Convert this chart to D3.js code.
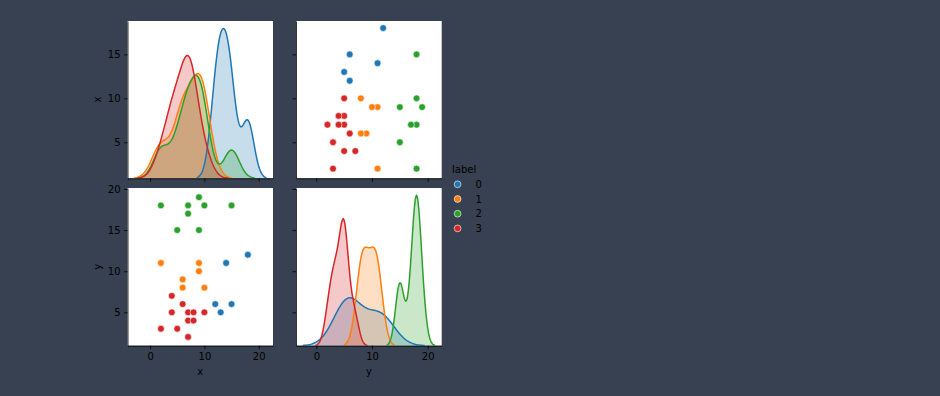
<!DOCTYPE html>
<html>
<head>
<meta charset="utf-8">
<script src="https://cdn.jsdelivr.net/npm/d3@7"></script>
<style>
  body { margin: 0; background: #374151; }
  svg { display: block; font-family: "DejaVu Sans", sans-serif; }
</style>
</head>
<body>
<svg id="chart" width="940" height="396"></svg>
<script>
const labels = [0, 1, 2, 3]
const colors = ['#1f77b4', '#ff7f0e', '#2ca02c', '#d62728']

// one entry per observation, same order in all three arrays
const xValues = [18, 14, 12, 15, 13,  2, 9, 9, 6, 6, 10,  2, 7, 7, 9, 10, 15, 5, 9,  4, 6, 4, 7, 8, 10, 7, 8, 2, 5, 7]
const yValues = [12, 11, 6, 6, 5,  11, 11, 10, 9, 8, 8,  18, 18, 17, 19, 18, 18, 15, 15,  7, 6, 5, 5, 5, 5, 4, 4, 3, 3, 2]
const pointLabels = [0, 0, 0, 0, 0,  1, 1, 1, 1, 1, 1,  2, 2, 2, 2, 2, 2, 2, 2,  3, 3, 3, 3, 3, 3, 3, 3, 3, 3, 3]

const colTicks = [0, 10, 20]
const row0Ticks = [5, 10, 15]
const row1Ticks = [5, 10, 15, 20]

const cols = [[127.5, 273], [296, 441.7]]
const rows = [[21, 178.3], [188, 345.7]]

const svg = d3.select('#chart')

// kde like old seaborn / statsmodels: scott bandwidth, cut 3, 100 points
function kde(vals) {
  const n = vals.length
  const sorted = vals.slice().sort(d3.ascending)
  const sd = d3.deviation(vals)
  const iqr = (d3.quantileSorted(sorted, 0.75) - d3.quantileSorted(sorted, 0.25)) / 1.349
  const a = iqr > 0 ? Math.min(sd, iqr) : sd
  const bw = 1.059 * a * Math.pow(n, -0.2)
  const lo = d3.min(vals) - 3 * bw
  const hi = d3.max(vals) + 3 * bw
  return d3.range(100).map(i => {
    const g = lo + (hi - lo) * i / 99
    const dens = d3.sum(vals, v => Math.exp(-0.5 * ((g - v) / bw) ** 2)) / (n * bw * Math.sqrt(2 * Math.PI))
    return [g, dens]
  })
}

const byLabel = (arr, lab) => arr.filter((d, i) => pointLabels[i] === lab)
const xKde = labels.map(l => kde(byLabel(xValues, l)))
const yKde = labels.map(l => kde(byLabel(yValues, l)))

function padded(curves) {
  const lo = d3.min(curves, c => c[0][0])
  const hi = d3.max(curves, c => c[c.length - 1][0])
  const m = (hi - lo) * 0.05
  return [lo - m, hi + m]
}

const xCol = d3.scaleLinear().domain(padded(xKde)).range(cols[0])
const yCol = d3.scaleLinear().domain(padded(yKde)).range(cols[1])
const xRow = d3.scaleLinear().domain([0.9, 18.8]).range([rows[0][1], rows[0][0]])
const yRow = d3.scaleLinear().domain([0.94, 20.12]).range([rows[1][1], rows[1][0]])

function panel(id, c, r) {
  const [x0, x1] = cols[c], [y0, y1] = rows[r]
  svg.append('rect').attr('x', x0).attr('y', y0).attr('width', x1 - x0).attr('height', y1 - y0).attr('fill', '#fff')
  svg.append('clipPath').attr('id', id).append('rect')
    .attr('x', x0).attr('y', y0).attr('width', x1 - x0).attr('height', y1 - y0)
  return svg.append('g').attr('clip-path', `url(#${id})`)
}

function diag(g, xs, curves, r) {
  const top = d3.max(curves, c => d3.max(c, d => d[1]))
  const ys = d3.scaleLinear().domain([0, top * 1.05]).range([rows[r][1], rows[r][0]])
  const line = d3.line().x(d => xs(d[0])).y(d => ys(d[1]))
  const area = d3.area().x(d => xs(d[0])).y0(ys(0)).y1(d => ys(d[1]))
  // fills sit under every line, like matplotlib's zorder
  curves.forEach((c, i) => {
    g.append('path').attr('d', area(c)).attr('fill', colors[i]).attr('fill-opacity', 0.25)
  })
  curves.forEach((c, i) => {
    g.append('path').attr('d', line(c)).attr('fill', 'none')
      .attr('stroke', colors[i]).attr('stroke-width', 1.5)
  })
}

function scatter(g, xs, ys, hv, vv) {
  g.selectAll('circle')
    .data(d3.range(hv.length))
    .enter()
    .append('circle')
    .attr('cx', i => xs(hv[i]))
    .attr('cy', i => ys(vv[i]))
    .attr('r', 3.4)
    .attr('fill', i => colors[pointLabels[i]])
    .attr('stroke', '#fff')
    .attr('stroke-width', 0.6)
}

diag(panel('p00', 0, 0), xCol, xKde, 0)
scatter(panel('p01', 1, 0), yCol, xRow, yValues, xValues)
scatter(panel('p10', 0, 1), xCol, yRow, xValues, yValues)
diag(panel('p11', 1, 1), yCol, yKde, 1)

function styleAxis(g) {
  g.selectAll('.domain').attr('stroke', '#000').attr('stroke-width', 0.8)
  g.selectAll('.tick line').attr('stroke', '#000').attr('stroke-width', 0.8)
  g.selectAll('.tick text').attr('fill', '#000').style('font-size', '10px').style('font-family', '"DejaVu Sans", sans-serif')
}

function bottomAxis(scale, r, showLabels) {
  const ax = d3.axisBottom(scale).tickValues(colTicks).tickSize(3.5).tickSizeOuter(0).tickPadding(3.5)
  if (!showLabels) ax.tickFormat('')
  const g = svg.append('g').attr('transform', `translate(0,${rows[r][1]})`).call(ax)
  styleAxis(g)
}

function leftAxis(scale, c, ticks, showLabels) {
  const ax = d3.axisLeft(scale).tickValues(ticks).tickSize(3.5).tickSizeOuter(0).tickPadding(3.5)
  if (!showLabels) ax.tickFormat('')
  const g = svg.append('g').attr('transform', `translate(${cols[c][0]},0)`).call(ax)
  styleAxis(g)
}

bottomAxis(xCol, 0, false)
bottomAxis(yCol, 0, false)
bottomAxis(xCol, 1, true)
bottomAxis(yCol, 1, true)
leftAxis(xRow, 0, row0Ticks, true)
leftAxis(xRow, 1, row0Ticks, false)
leftAxis(yRow, 0, row1Ticks, true)
leftAxis(yRow, 1, row1Ticks, false)

// axis titles
const title = (x, y, t, rot) => svg.append('text')
  .attr('transform', `translate(${x},${y}) rotate(${rot})`)
  .attr('text-anchor', 'middle').attr('fill', '#000').style('font-size', '10px').text(t)
title(100.5, (rows[0][0] + rows[0][1]) / 2, 'x', -90)
title(100.5, (rows[1][0] + rows[1][1]) / 2, 'y', -90)
title((cols[0][0] + cols[0][1]) / 2, 374.5, 'x', 0)
title((cols[1][0] + cols[1][1]) / 2, 374.5, 'y', 0)

// legend
const legend = svg.append('g').attr('transform', 'translate(452,0)')
legend.append('text').attr('x', 0).attr('y', 172.5).attr('fill', '#000').style('font-size', '10px').text('label')
const item = legend.selectAll('g.item').data(labels).enter().append('g')
  .attr('class', 'item')
  .attr('transform', (d, i) => `translate(0,${184.3 + i * 14.7})`)
item.append('circle').attr('cx', 5.6).attr('cy', 0).attr('r', 3.4)
  .attr('fill', (d, i) => colors[i]).attr('stroke', '#fff').attr('stroke-width', 0.6)
item.append('text').attr('x', 23.5).attr('y', 3.6).attr('fill', '#000').style('font-size', '10px').text(d => d)
</script>
</body>
</html>
